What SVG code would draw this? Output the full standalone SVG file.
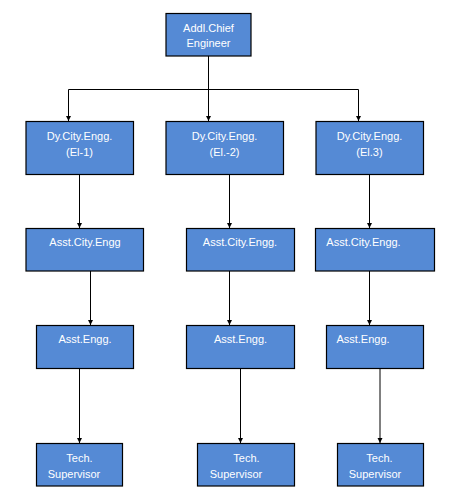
<svg xmlns="http://www.w3.org/2000/svg" width="454" height="499" viewBox="0 0 454 499">
<style>
.box{fill:#558ad5;stroke:#000;stroke-width:1.2}
.t{font-family:"Liberation Sans",Arial,sans-serif;font-size:11px;fill:#fff;text-anchor:middle}
.c{fill:none;stroke:#000;stroke-width:1}
</style>
<defs>
<marker id="ah" markerUnits="userSpaceOnUse" markerWidth="6" markerHeight="6" refX="5" refY="3" orient="auto">
<path d="M0,0.5 L5,3 L0,5.5 z" fill="#000"/>
</marker>
</defs>
<rect width="454" height="499" fill="#fff"/>
<g id="connectors">
<path class="c" d="M208.5,56 V89.5"/>
<path class="c" d="M68.5,89.5 H358.5"/>
<path class="c" d="M68.5,89.5 V121" marker-end="url(#ah)"/>
<path class="c" d="M208.5,89.5 V121" marker-end="url(#ah)"/>
<path class="c" d="M358.5,89.5 V121" marker-end="url(#ah)"/>
<path class="c" d="M79.5,174.5 V228" marker-end="url(#ah)"/>
<path class="c" d="M229.5,174.5 V228" marker-end="url(#ah)"/>
<path class="c" d="M369.5,174.5 V228" marker-end="url(#ah)"/>
<path class="c" d="M90.5,271 V325" marker-end="url(#ah)"/>
<path class="c" d="M229.5,271 V325" marker-end="url(#ah)"/>
<path class="c" d="M369.5,271 V325" marker-end="url(#ah)"/>
<path class="c" d="M79.5,368.5 V443" marker-end="url(#ah)"/>
<path class="c" d="M240.5,368.5 V443" marker-end="url(#ah)"/>
<path class="c" d="M380,368.5 V443" marker-end="url(#ah)"/>
</g>
<g id="n-ace"><rect class="box" x="166" y="13.5" width="85" height="42.5"/><text class="t" x="208.5" y="31.5">Addl.Chief</text><text class="t" x="208.5" y="47">Engineer</text></g>
<g id="n-dy1"><rect class="box" x="26" y="121.5" width="107.5" height="53"/><text class="t" x="79.5" y="140">Dy.City.Engg.</text><text class="t" x="79.5" y="155.5">(El-1)</text></g>
<g id="n-dy2"><rect class="box" x="166" y="121.5" width="117.5" height="53"/><text class="t" x="224.5" y="140">Dy.City.Engg.</text><text class="t" x="224.5" y="155.5">(El.-2)</text></g>
<g id="n-dy3"><rect class="box" x="316" y="121.5" width="107.5" height="53"/><text class="t" x="369.5" y="140">Dy.City.Engg.</text><text class="t" x="369.5" y="155.5">(El.3)</text></g>
<g id="n-ace1"><rect class="box" x="26" y="228.5" width="117.5" height="42.5"/><text class="t" x="85" y="245.5">Asst.City.Engg</text></g>
<g id="n-ace2"><rect class="box" x="186.5" y="228.5" width="108" height="42.5"/><text class="t" x="240" y="245.5">Asst.City.Engg.</text></g>
<g id="n-ace3"><rect class="box" x="315.5" y="228.5" width="119" height="42.5"/><text class="t" x="363.5" y="245.5">Asst.City.Engg.</text></g>
<g id="n-ae1"><rect class="box" x="36.5" y="325.5" width="97" height="43"/><text class="t" x="85" y="343">Asst.Engg.</text></g>
<g id="n-ae2"><rect class="box" x="186.5" y="325.5" width="108" height="43"/><text class="t" x="240.5" y="343">Asst.Engg.</text></g>
<g id="n-ae3"><rect class="box" x="326.5" y="325.5" width="97" height="43"/><text class="t" x="363" y="343">Asst.Engg.</text></g>
<g id="n-ts1"><rect class="box" x="36.5" y="443.5" width="86" height="42.5"/><text class="t" x="79.5" y="461.5">Tech.</text><text class="t" x="74" y="477.5">Supervisor</text></g>
<g id="n-ts2"><rect class="box" x="197.5" y="443.5" width="97" height="42.5"/><text class="t" x="246.5" y="461.5">Tech.</text><text class="t" x="236" y="477.5">Supervisor</text></g>
<g id="n-ts3"><rect class="box" x="337.5" y="443.5" width="86" height="42.5"/><text class="t" x="379.5" y="461.5">Tech.</text><text class="t" x="375" y="477.5">Supervisor</text></g>
</svg>
